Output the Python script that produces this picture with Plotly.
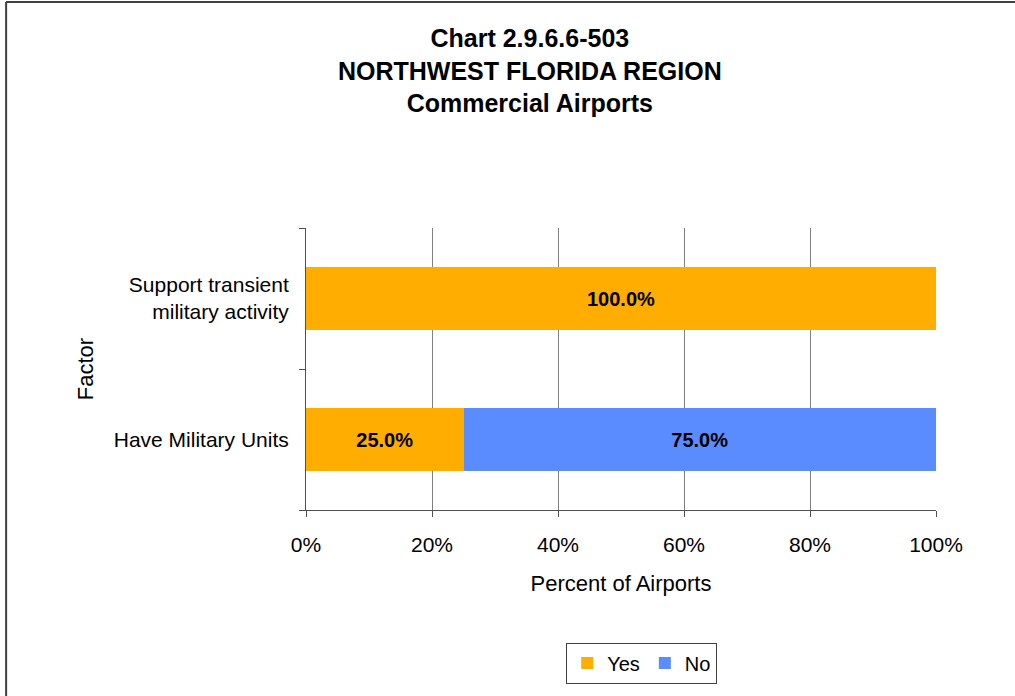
import plotly.graph_objects as go

# data
factors = ["Have Military Units", "Support transient<br>military activity"]
yes_pct = [25.0, 100.0]
no_pct = [75.0, 0.0]
x_ticks = [0, 20, 40, 60, 80, 100]
x_tick_text = [f"{t}%" for t in x_ticks]

FONT = "Liberation Sans, Arial, sans-serif"


def labels(vals):
    return [f"{v:.1f}%" if v > 0 else "" for v in vals]


fig = go.Figure()
fig.add_trace(go.Bar(
    name="Yes", y=factors, x=yes_pct, orientation="h",
    marker=dict(color="#FFAD00", line=dict(width=0)),
    text=labels(yes_pct), textposition="inside", insidetextanchor="middle",
    textfont=dict(family=FONT, size=20, color="black", weight="bold"),
    hovertemplate="%{y}<br>Yes: %{x:.1f}%<extra></extra>",
))
fig.add_trace(go.Bar(
    name="No", y=factors, x=no_pct, orientation="h",
    marker=dict(color="#5B8CFF", line=dict(width=0)),
    text=labels(no_pct), textposition="inside", insidetextanchor="middle",
    textfont=dict(family=FONT, size=20, color="black", weight="bold"),
    hovertemplate="%{y}<br>No: %{x:.1f}%<extra></extra>",
))

fig.update_layout(
    width=1015, height=696,
    barmode="stack", bargap=0.55,
    plot_bgcolor="white", paper_bgcolor="white",
    margin=dict(l=306, r=79, t=228, b=186),
    font=dict(family=FONT, size=18, color="black"),
    title=dict(
        text="Chart 2.9.6.6-503<br>NORTHWEST FLORIDA REGION<br>Commercial Airports",
        x=0.522, xanchor="center", xref="container",
        y=0.932, yanchor="top", yref="container",
        font=dict(family=FONT, size=25, color="black", weight="bold"),
    ),
    showlegend=True,
    legend=dict(
        orientation="h", x=0.413, xanchor="left", y=-0.47, yanchor="top",
        bordercolor="#404040", borderwidth=1, font=dict(size=20),
        itemwidth=30, traceorder="normal",
    ),
    uniformtext=dict(minsize=10, mode="show"),
)

fig.update_xaxes(
    range=[0, 100], tickvals=x_ticks, ticktext=x_tick_text,
    showgrid=True, gridcolor="#808080", gridwidth=1,
    showline=True, linecolor="#505050", linewidth=1,
    ticks="outside", ticklen=6, tickcolor="#505050", ticklabelstandoff=10,
    title=dict(text="Percent of Airports", standoff=20),
    zeroline=False, tickfont=dict(size=21),
)
fig.update_yaxes(
    showline=True, linecolor="#505050", linewidth=1,
    ticks="outside", ticklen=6, tickcolor="#505050", tickson="boundaries",
    ticklabelstandoff=12,
    title=dict(text="Factor", standoff=14),
    tickfont=dict(size=21), showgrid=False,
)

# outer frame of the chart area
fig.add_shape(type="line", xref="paper", yref="paper",
              x0=-0.476, x1=1.2, y0=1.801, y1=1.801,
              line=dict(color="#404040", width=2))
fig.add_shape(type="line", xref="paper", yref="paper",
              x0=-0.476, x1=-0.476, y0=1.801, y1=-0.7,
              line=dict(color="#404040", width=2))

# drop the browser's default page margin so the figure sits at 0,0
fig.write_html("out.html", config={"displayModeBar": False},
               post_script="document.body.style.margin='0';")
